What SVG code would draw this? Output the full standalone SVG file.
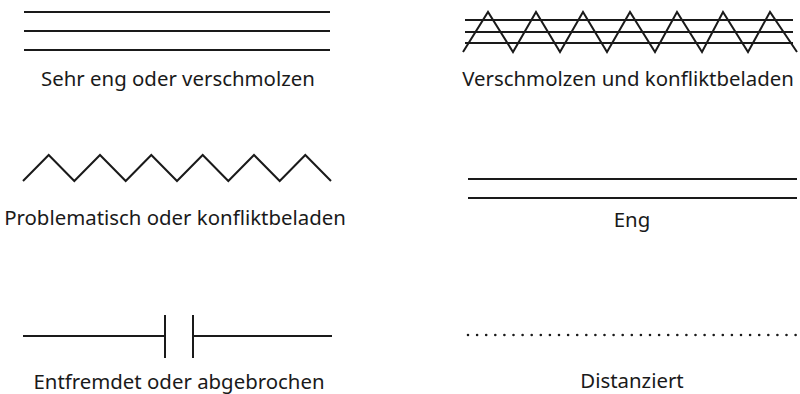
<svg xmlns="http://www.w3.org/2000/svg" width="800" height="394" viewBox="0 0 800 394">
<style>
.l{stroke:#1a1a1a;stroke-width:2;fill:none}
.t{font-family:"Noto Sans","Open Sans",sans-serif;font-size:20.4px;fill:#1a1a1a;text-anchor:middle}
</style>
<rect width="800" height="394" fill="#fff"/>
<g id="sehr-eng">
<line class="l" x1="24" y1="12" x2="330" y2="12"/>
<line class="l" x1="24" y1="31" x2="330" y2="31"/>
<line class="l" x1="24" y1="50" x2="330" y2="50"/>
<text class="t" x="178" y="86">Sehr eng oder verschmolzen</text>
</g>
<g id="verschmolzen-konflikt">
<line class="l" x1="465" y1="20" x2="793" y2="20"/>
<line class="l" x1="465" y1="32" x2="793" y2="32"/>
<line class="l" x1="465" y1="43" x2="793" y2="43"/>
<polyline class="l" points="463,52 488,12 513,52 536,12 560,52 583,12 607,52 630,12 655,52 677,12 702,52 723,12 748,52 770,12 797,52"/>
<text class="t" x="628" y="86">Verschmolzen und konfliktbeladen</text>
</g>
<g id="problematisch">
<polyline class="l" points="23,181 48.7,155 74.3,181 100,155 125.7,181 151.3,155 177,181 202.7,155 228.3,181 254,155 279.7,181 305.3,155 331,181"/>
<text class="t" x="175" y="225">Problematisch oder konfliktbeladen</text>
</g>
<g id="eng">
<line class="l" x1="468" y1="179" x2="797" y2="179"/>
<line class="l" x1="468" y1="198" x2="797" y2="198"/>
<text class="t" x="632" y="227">Eng</text>
</g>
<g id="entfremdet">
<line class="l" x1="23" y1="336" x2="165" y2="336"/>
<line class="l" x1="165" y1="315" x2="165" y2="358"/>
<line class="l" x1="193" y1="315" x2="193" y2="358"/>
<line class="l" x1="193" y1="336" x2="332" y2="336"/>
<text class="t" x="179" y="389">Entfremdet oder abgebrochen</text>
</g>
<g id="distanziert">
<line x1="468" y1="335" x2="800" y2="335" stroke="#1a1a1a" stroke-width="2.6" stroke-linecap="round" stroke-dasharray="0 9.1"/>
<text class="t" x="632" y="388">Distanziert</text>
</g>
<g id="connectors"></g>
</svg>
